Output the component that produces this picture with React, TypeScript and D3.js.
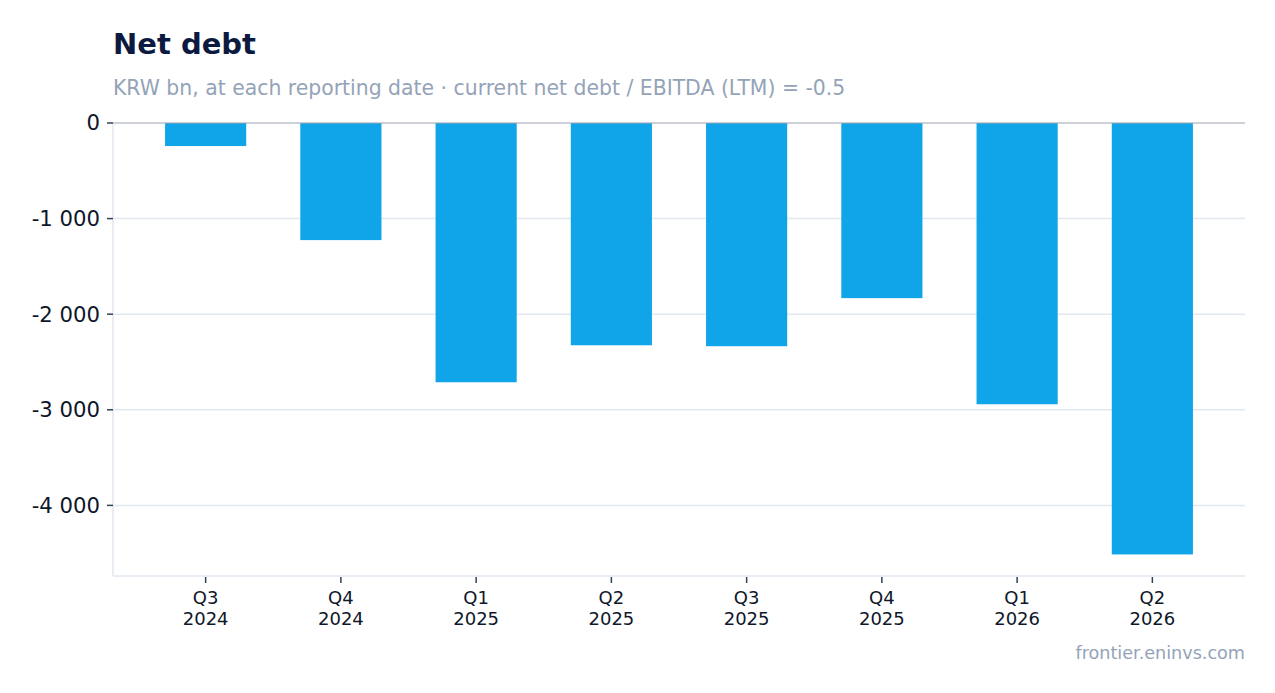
import React from "react";
import * as d3 from "d3";

const quarters = ["Q3", "Q4", "Q1", "Q2", "Q3", "Q4", "Q1", "Q2"];
const years = ["2024", "2024", "2025", "2025", "2025", "2025", "2026", "2026"];
const netDebt = [-241, -1225, -2712, -2325, -2335, -1832, -2942, -4513];
const yTicks = [0, -1000, -2000, -3000, -4000];

const W = 1275;
const H = 693;
const M = { left: 113, right: 1245, top: 123, bottom: 576 };
const FONT = "'DejaVu Sans', sans-serif";

const fmt = (v: number) => {
  const s = d3.format(",")(Math.abs(v)).replace(/,/g, " ");
  return v < 0 ? "-" + s : s;
};

export default function App() {
  const keys = netDebt.map((_, i) => String(i));
  const x = d3
    .scaleBand<string>()
    .domain(keys)
    .range([M.left, M.right])
    .paddingInner(0.4)
    .paddingOuter(0.385);
  const minV = d3.min(netDebt) as number;
  const y = d3.scaleLinear().domain([minV * 1.05, 0]).range([M.bottom, M.top]);

  return (
    <svg
      width={W}
      height={H}
      style={{ position: "absolute", left: 0, top: 0, background: "#fff" }}
      fontFamily={FONT}
    >
      <text x={113} y={54} fontSize={29} fontWeight="bold" fill="#0c1a40">
        Net debt
      </text>
      <text x={113} y={95} fontSize={20.4} fill="#94a3b8">
        KRW bn, at each reporting date · current net debt / EBITDA (LTM) = -0.5
      </text>

      {/* grid */}
      {yTicks.map((t) =>
        t === 0 ? null : (
          <line key={t} x1={M.left} x2={M.right} y1={y(t)} y2={y(t)} stroke="#e2e8f0" strokeWidth={1.5} />
        )
      )}
      {/* left axis line */}
      <line x1={M.left} x2={M.left} y1={M.top} y2={M.bottom} stroke="#e2e8f0" strokeWidth={1.5} />
      {/* bottom axis line */}
      <line x1={M.left} x2={M.right} y1={M.bottom} y2={M.bottom} stroke="#e2e8f0" strokeWidth={1.5} />

      {/* bars */}
      {netDebt.map((v, i) => (
        <rect
          key={i}
          x={x(String(i))}
          width={x.bandwidth()}
          y={y(0)}
          height={y(v) - y(0)}
          fill="#10a5e8"
        />
      ))}

      {/* zero line */}
      <line x1={M.left} x2={M.right} y1={y(0)} y2={y(0)} stroke="#9ca3af" strokeWidth={1} />

      {/* y ticks */}
      {yTicks.map((t) => (
        <g key={t} transform={`translate(0,${y(t)})`}>
          <line x1={M.left - 6} x2={M.left} stroke="#334155" strokeWidth={1.5} />
          <text x={M.left - 13} dy="0.35em" textAnchor="end" fontSize={21.2} fill="#0f172a">
            {fmt(t)}
          </text>
        </g>
      ))}

      {/* x ticks */}
      {keys.map((k, i) => {
        const cx = (x(k) as number) + x.bandwidth() / 2;
        return (
          <g key={k} transform={`translate(${cx},0)`}>
            <line y1={M.bottom + 1} y2={M.bottom + 7} stroke="#334155" strokeWidth={1.5} />
            <text y={604} textAnchor="middle" fontSize={18} fill="#0f172a">
              {quarters[i]}
            </text>
            <text y={625} textAnchor="middle" fontSize={18} fill="#0f172a">
              {years[i]}
            </text>
          </g>
        );
      })}

      <text x={M.right} y={659} textAnchor="end" fontSize={17.6} fill="#94a3b8">
        frontier.eninvs.com
      </text>
    </svg>
  );
}
